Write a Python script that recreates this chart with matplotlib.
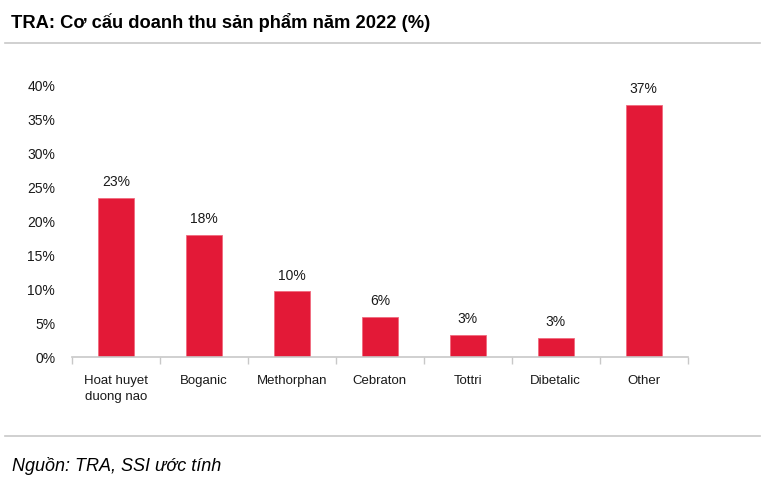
import matplotlib.pyplot as plt
from matplotlib.lines import Line2D
import numpy as np

plt.rcParams['font.family'] = ['Liberation Sans Narrow', 'Liberation Sans', 'DejaVu Sans']

categories = ['Hoat huyet\nduong nao', 'Boganic', 'Methorphan', 'Cebraton', 'Tottri', 'Dibetalic', 'Other']
values = [23.3, 17.9, 9.6, 5.9, 3.2, 2.8, 37.0]
labels = ['23%', '18%', '10%', '6%', '3%', '3%', '37%']
yticks = [0, 5, 10, 15, 20, 25, 30, 35, 40]

bar_color = '#E31937'
grey = '#C8C8C8'

fig = plt.figure(figsize=(7.65, 4.89), dpi=100)
ax = fig.add_axes([0.094, 0.268, 0.805, 0.558])

x = np.arange(len(categories))
ax.bar(x, values, width=0.41, color=bar_color, edgecolor='#F06A7E', linewidth=0.6)

for xi, v, lab in zip(x, values, labels):
    ax.annotate(lab, (xi, v), xytext=(0, 7), textcoords='offset points',
                ha='center', va='bottom', fontsize=10, color='#1a1a1a')

ax.set_xlim(-0.5, len(categories) - 0.5)
ax.set_ylim(0, 40)
ax.set_yticks(yticks)
ax.set_yticklabels([f'{t}%' for t in yticks], fontsize=10, color='#1a1a1a')
ax.set_xticks(x)
ax.set_xticklabels(categories, fontsize=9.5, color='#1a1a1a', linespacing=1.45)
ax.set_xticks(np.arange(-0.5, len(categories)), minor=True)
ax.tick_params(axis='x', which='major', length=0, pad=12)
ax.tick_params(axis='x', which='minor', length=5, color=grey, width=1, direction='out')
ax.tick_params(axis='y', length=0, pad=12)

for s in ['top', 'right', 'left']:
    ax.spines[s].set_visible(False)
ax.spines['bottom'].set_color(grey)
ax.spines['bottom'].set_linewidth(1.2)

# Tieu de va nguon
fig.text(0.015, 0.955, 'TRA: Cơ cấu doanh thu sản phẩm năm 2022 (%)', fontsize=13.2,
         fontweight='bold', ha='left', va='center', color='black')
fig.add_artist(Line2D([0.007, 0.993], [0.91, 0.91], color=grey, linewidth=1.2))
fig.add_artist(Line2D([0.007, 0.993], [0.106, 0.106], color=grey, linewidth=1.2))
fig.text(0.016, 0.048, 'Nguồn: TRA, SSI ước tính', fontsize=13, style='italic',
         ha='left', va='center', color='black')

plt.savefig('out.png', dpi=100)
plt.close()
